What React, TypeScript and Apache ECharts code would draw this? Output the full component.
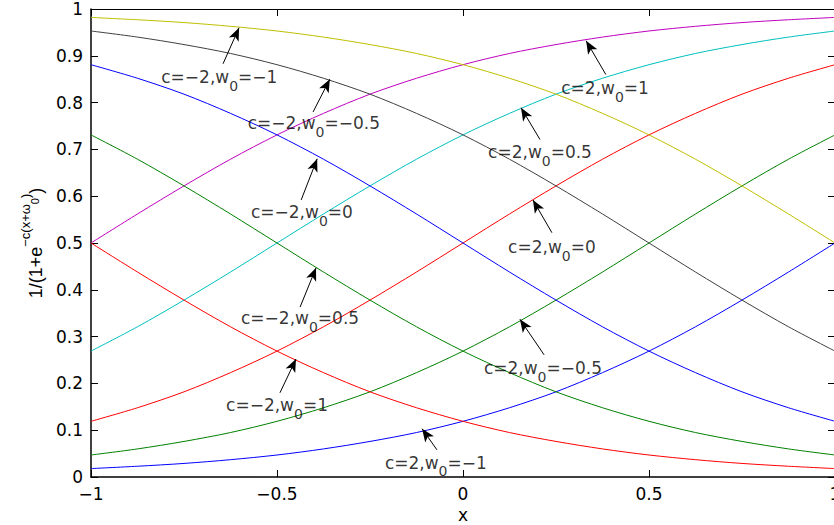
import React, { useEffect, useRef } from "react";
import * as echarts from "echarts";

const xs = [-1, -0.875, -0.75, -0.625, -0.5, -0.375, -0.25, -0.125, 0, 0.125, 0.25, 0.375, 0.5, 0.625, 0.75, 0.875, 1];

// c = 2 curves
const c2_wm1 = [0.018, 0.023, 0.029, 0.037, 0.047, 0.060, 0.076, 0.095, 0.119, 0.148, 0.182, 0.223, 0.269, 0.321, 0.378, 0.438, 0.500];
const c2_wm05 = [0.047, 0.060, 0.076, 0.095, 0.119, 0.148, 0.182, 0.223, 0.269, 0.321, 0.378, 0.438, 0.500, 0.562, 0.622, 0.679, 0.731];
const c2_w0 = [0.119, 0.148, 0.182, 0.223, 0.269, 0.321, 0.378, 0.438, 0.500, 0.562, 0.622, 0.679, 0.731, 0.777, 0.818, 0.852, 0.881];
const c2_w05 = [0.269, 0.321, 0.378, 0.438, 0.500, 0.562, 0.622, 0.679, 0.731, 0.777, 0.818, 0.852, 0.881, 0.905, 0.924, 0.940, 0.953];
const c2_w1 = [0.500, 0.562, 0.622, 0.679, 0.731, 0.777, 0.818, 0.852, 0.881, 0.905, 0.924, 0.940, 0.953, 0.963, 0.971, 0.977, 0.982];
// c = -2 curves
const cm2_wm1 = [0.982, 0.977, 0.971, 0.963, 0.953, 0.940, 0.924, 0.905, 0.881, 0.852, 0.818, 0.777, 0.731, 0.679, 0.622, 0.562, 0.500];
const cm2_wm05 = [0.953, 0.940, 0.924, 0.905, 0.881, 0.852, 0.818, 0.777, 0.731, 0.679, 0.622, 0.562, 0.500, 0.438, 0.378, 0.321, 0.269];
const cm2_w0 = [0.881, 0.852, 0.818, 0.777, 0.731, 0.679, 0.622, 0.562, 0.500, 0.438, 0.378, 0.321, 0.269, 0.223, 0.182, 0.148, 0.119];
const cm2_w05 = [0.731, 0.679, 0.622, 0.562, 0.500, 0.438, 0.378, 0.321, 0.269, 0.223, 0.182, 0.148, 0.119, 0.095, 0.076, 0.060, 0.047];
const cm2_w1 = [0.500, 0.438, 0.378, 0.321, 0.269, 0.223, 0.182, 0.148, 0.119, 0.095, 0.076, 0.060, 0.047, 0.037, 0.029, 0.023, 0.018];

const xTickLabels = ["\u22121", "\u22120.5", "0", "0.5", "1"];
const yTickLabels = ["0", "0.1", "0.2", "0.3", "0.4", "0.5", "0.6", "0.7", "0.8", "0.9", "1"];

const seriesList = [
  { name: "c=2,w0=-1", values: c2_wm1, color: "#0000ff" },
  { name: "c=2,w0=-0.5", values: c2_wm05, color: "#008000" },
  { name: "c=2,w0=0", values: c2_w0, color: "#ff0000" },
  { name: "c=2,w0=0.5", values: c2_w05, color: "#00bfbf" },
  { name: "c=2,w0=1", values: c2_w1, color: "#bf00bf" },
  { name: "c=-2,w0=-1", values: cm2_wm1, color: "#bfbf00" },
  { name: "c=-2,w0=-0.5", values: cm2_wm05, color: "#404040" },
  { name: "c=-2,w0=0", values: cm2_w0, color: "#0000ff" },
  { name: "c=-2,w0=0.5", values: cm2_w05, color: "#008000" },
  { name: "c=-2,w0=1", values: cm2_w1, color: "#ff0000" },
];

// annotations: c, w0, arrow head, arrow tail, text centre (data coordinates)
const annC = [-2, -2, -2, -2, -2, 2, 2, 2, 2, 2];
const annW = ["-1", "-0.5", "0", "0.5", "1", "-1", "-0.5", "0", "0.5", "1"];
const annHead = [
  [-0.602, 0.960], [-0.358, 0.850], [-0.392, 0.680], [-0.395, 0.447], [-0.449, 0.252],
  [-0.110, 0.103], [0.153, 0.337], [0.188, 0.592], [0.156, 0.789], [0.331, 0.932],
];
const annTail = [
  [-0.645, 0.883], [-0.403, 0.780], [-0.435, 0.592], [-0.438, 0.363], [-0.492, 0.180],
  [-0.070, 0.058], [0.218, 0.261], [0.239, 0.522], [0.207, 0.721], [0.384, 0.860],
];
const annText = [
  [-0.655, 0.855], [-0.401, 0.757], [-0.433, 0.567], [-0.438, 0.340], [-0.500, 0.154],
  [-0.073, 0.032], [0.215, 0.233], [0.239, 0.492], [0.207, 0.695], [0.382, 0.832],
];

const FONT = "DejaVu Sans";
const minus = (s: string) => s.replace(/-/g, "\u2212");

export default function App() {
  const ref = useRef<HTMLDivElement>(null);
  useEffect(() => {
    if (!ref.current) return;
    const chart = echarts.init(ref.current, null, { renderer: "svg" });
    const axisLineStyle = { color: "#000", width: 1.5 };
    const thinLine = { color: "#000", width: 1 };
    const labelStyle = { fontFamily: FONT, fontSize: 17, color: "#000" };

    const lineSeries = seriesList.map((s) => ({
      name: s.name,
      type: "line",
      data: xs.map((x, i) => [x, s.values[i]]),
      showSymbol: false,
      symbol: "none",
      smooth: 0.3,
      lineStyle: { color: s.color, width: 1 },
      itemStyle: { color: s.color },
      silent: true,
      z: 2,
    }));

    const textSeries = {
      name: "annotations",
      type: "scatter",
      symbolSize: 0,
      silent: true,
      z: 5,
      data: annText.map((p, i) => ({
        value: p,
        label: {
          show: true,
          position: "inside",
          offset: [0, 2],
          formatter: `{m|c=${minus(String(annC[i]))},w}{s|0}{m|=${minus(annW[i])}}`,
          rich: {
            m: { fontFamily: FONT, fontSize: 17, color: "#000", lineHeight: 20, verticalAlign: "top" },
            s: { fontFamily: FONT, fontSize: 14, color: "#000", lineHeight: 14, padding: [10, 0, 0, 0], verticalAlign: "top" },
          },
        },
      })),
      markLine: {
        silent: true,
        symbol: ["none", "arrow"],
        label: { show: false },
        lineStyle: { color: "#000", width: 1, type: "solid" },
        emphasis: { disabled: true },
        data: annHead.map((h, i) => [
          { coord: annTail[i], symbol: "none" },
          { coord: h, symbol: "arrow", symbolSize: [8, 13] },
        ]),
      },
    };

    chart.setOption({
      animation: false,
      backgroundColor: "#fff",
      grid: { left: 91, top: 9, width: 744, height: 468, outerBoundsMode: "none", containLabel: false },
      xAxis: [
        {
          type: "value",
          min: -1,
          max: 1,
          interval: 0.5,
          position: "bottom",
          name: "x",
          nameLocation: "middle",
          nameGap: 26,
          nameTextStyle: labelStyle,
          axisLine: { onZero: false, lineStyle: axisLineStyle },
          axisTick: { inside: true, length: 7, lineStyle: thinLine },
          axisLabel: { ...labelStyle, margin: 8, formatter: (_v: number, i: number) => xTickLabels[i] },
          splitLine: { show: false },
        },
        {
          type: "value",
          min: -1,
          max: 1,
          interval: 0.5,
          position: "top",
          axisLine: { onZero: false, lineStyle: thinLine },
          axisTick: { inside: true, length: 7, lineStyle: thinLine },
          axisLabel: { show: false },
          splitLine: { show: false },
        },
      ],
      yAxis: [
        {
          type: "value",
          min: 0,
          max: 1,
          interval: 0.1,
          position: "left",
          name: "{m|1/(1+e}{p|\u2212c(x+\u03c9}{q|0}{p|)}{m|)}",
          nameLocation: "middle",
          nameRotate: 90,
          nameGap: 51,
          nameTextStyle: {
            rich: {
              m: { fontFamily: "Liberation Sans", fontSize: 18, color: "#000", lineHeight: 20, padding: [8, 0, 0, 0], verticalAlign: "top" },
              p: { fontFamily: "Liberation Sans", fontSize: 13, color: "#000", lineHeight: 14, verticalAlign: "top" },
              q: { fontFamily: "Liberation Sans", fontSize: 11, color: "#000", lineHeight: 12, padding: [10, 0, 0, 0], verticalAlign: "top" },
            },
          },
          axisLine: { onZero: false, lineStyle: axisLineStyle },
          axisTick: { inside: true, length: 7, lineStyle: thinLine },
          axisLabel: { ...labelStyle, margin: 8, formatter: (_v: number, i: number) => yTickLabels[i] },
          splitLine: { show: false },
        },
        {
          type: "value",
          min: 0,
          max: 1,
          interval: 0.1,
          position: "right",
          axisLine: { onZero: false, lineStyle: thinLine },
          axisTick: { inside: true, length: 7, lineStyle: thinLine },
          axisLabel: { show: false },
          splitLine: { show: false },
        },
      ],
      series: [...lineSeries, textSeries],
    });
    return () => chart.dispose();
  }, []);
  return (
    <div
      ref={ref}
      style={{ position: "fixed", left: 0, top: 0, width: 834, height: 525, background: "#fff" }}
    />
  );
}
